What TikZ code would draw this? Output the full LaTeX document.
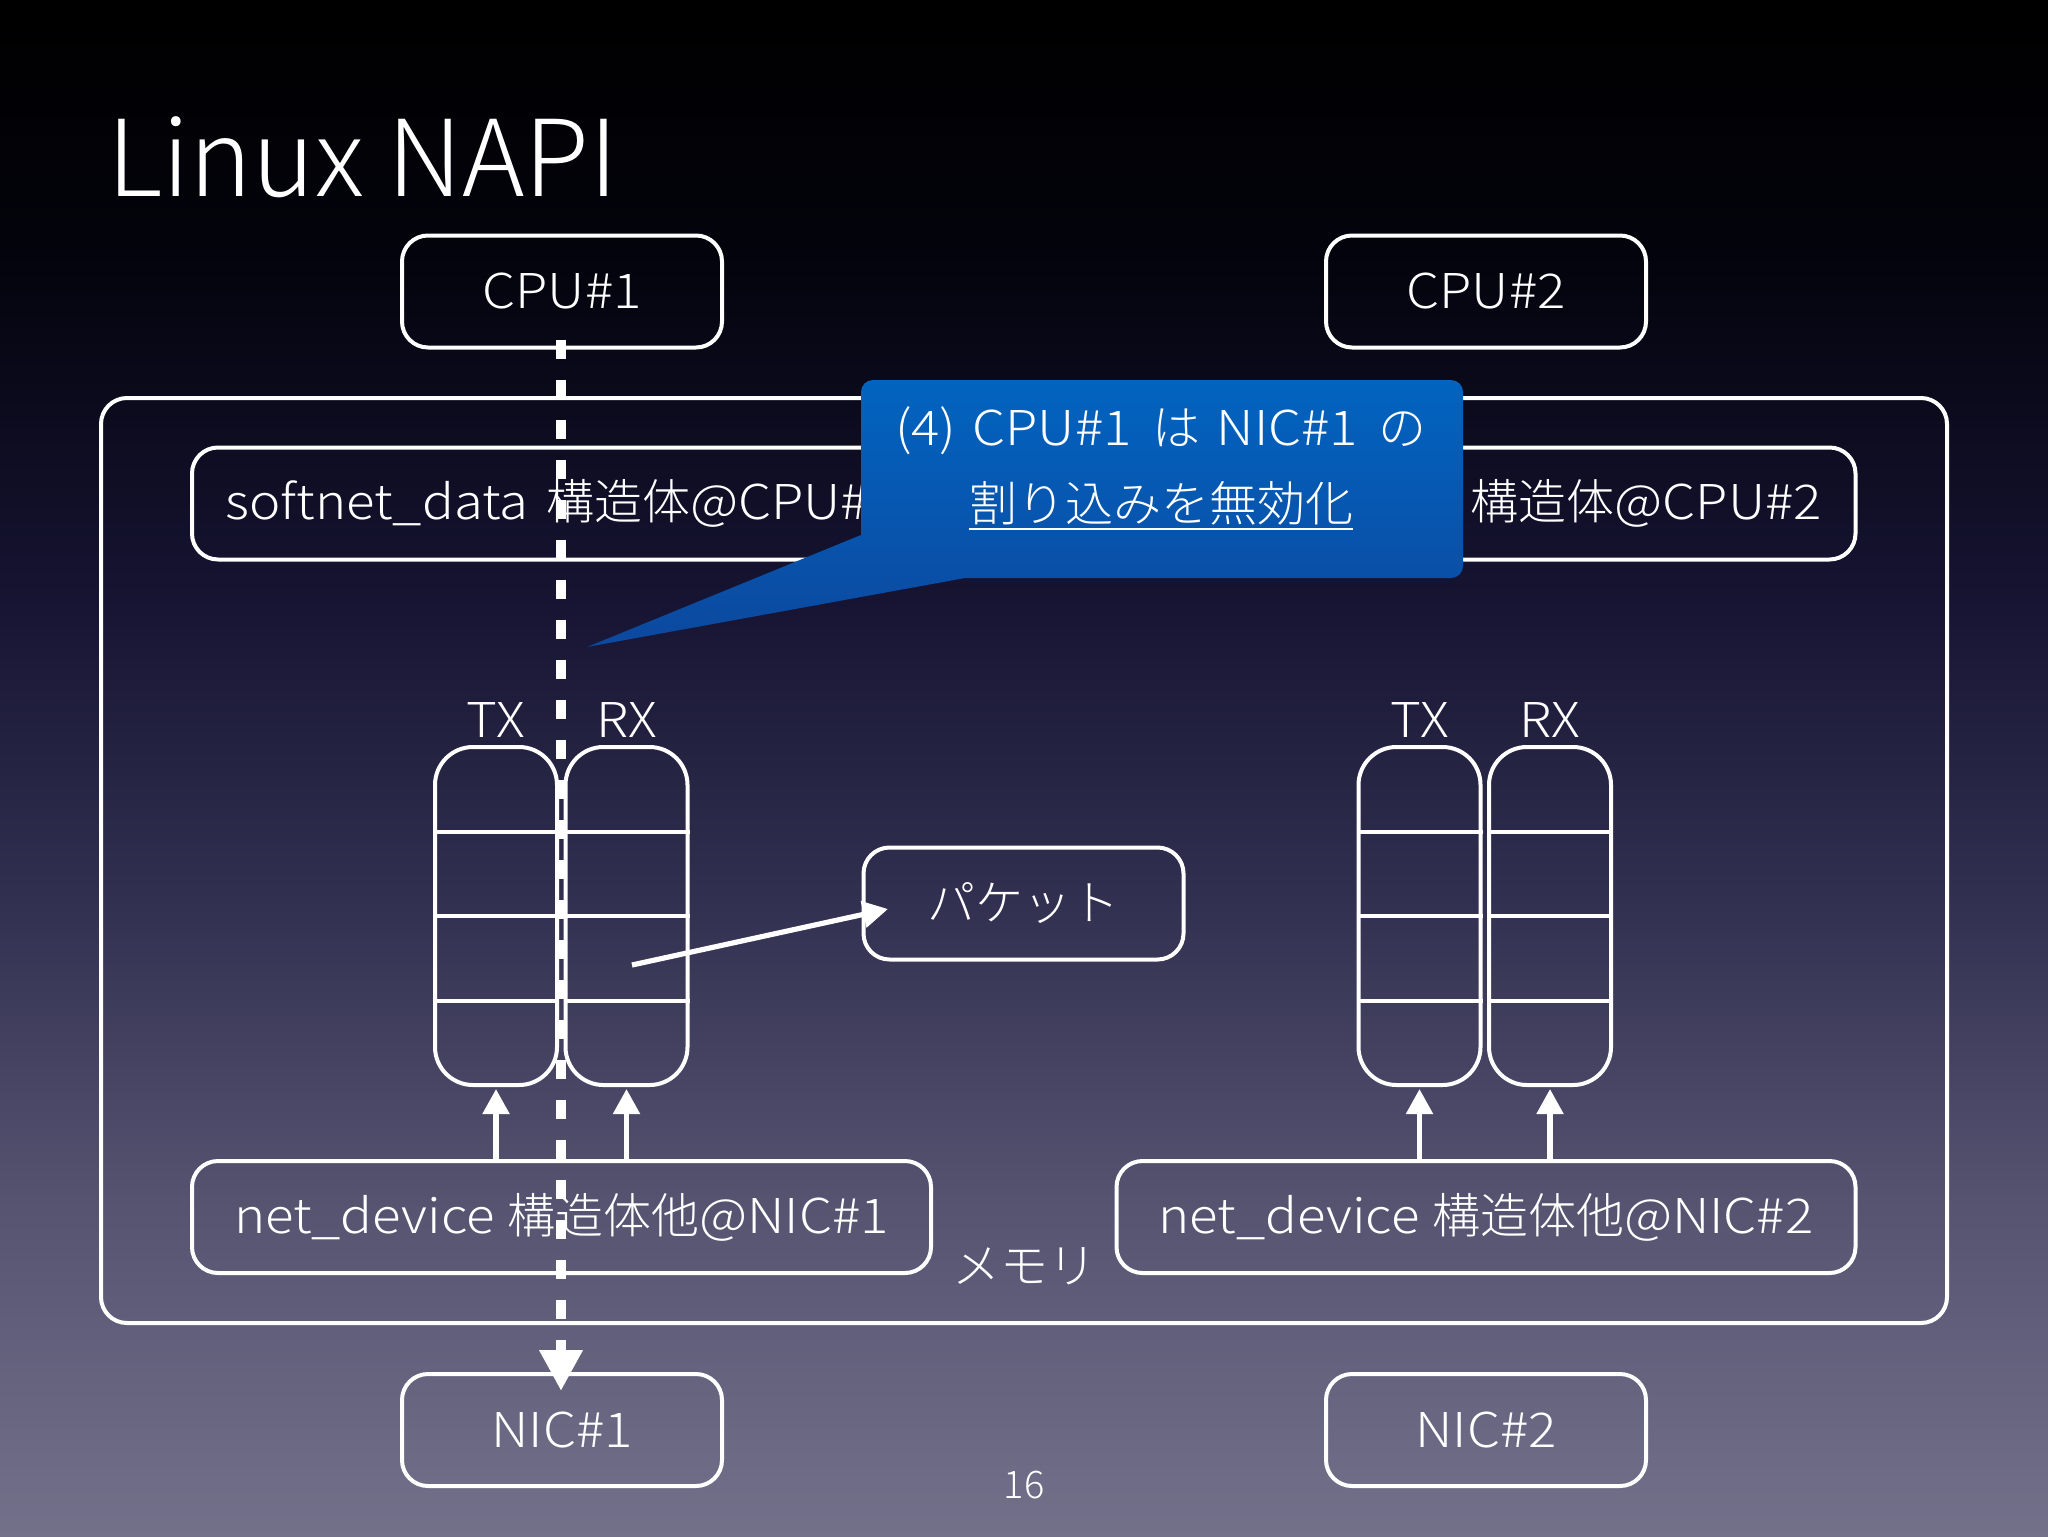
\documentclass[tikz,border=0pt]{standalone}
\usepackage{fontspec}
\IfFontExistsTF{Noto Sans CJK JP Light}{%
  \setmainfont{Noto Sans CJK JP Light}[FakeStretch=1.1]%
  \newfontfamily\cjk{Noto Sans CJK JP Light}%
  \newfontfamily\titlefont{Noto Sans CJK JP Light}}{%
  \setmainfont{Noto Sans CJK JP}[FakeStretch=1.1]%
  \newfontfamily\cjk{Noto Sans CJK JP}%
  \newfontfamily\titlefont{Noto Sans CJK JP}}
\usetikzlibrary{arrows.meta,calc}
\definecolor{bgA}{RGB}{115,113,138}
\definecolor{bgB}{RGB}{85,83,112}
\definecolor{bgC}{RGB}{50,48,80}
\definecolor{bgD}{RGB}{22,20,50}
\definecolor{bgE}{RGB}{3,3,12}
\definecolor{bgF}{RGB}{0,0,0}
\definecolor{callTop}{RGB}{2,100,192}
\definecolor{callBot}{RGB}{12,72,158}
\pgfdeclareverticalshading{slidebg}{100bp}{color(0bp)=(bgA); color(25bp)=(bgA); color(35.94bp)=(bgB); color(45.7bp)=(bgC); color(55.47bp)=(bgD); color(66.86bp)=(bgE); color(75bp)=(bgF); color(100bp)=(bgF)}
\newcommand\fsbox{\fontsize{24pt}{28pt}\selectfont}
\newcommand\fstitle{\titlefont\fontsize{53pt}{58pt}\selectfont}
\newcommand\fspage{\titlefont\fontsize{19pt}{22pt}\selectfont}
\newcommand\jp[1]{{\cjk #1}}
\tikzset{
  box/.style={draw=white, line width=2pt, rounded corners=13pt, text=white, font=\fsbox, inner sep=0pt, minimum height=56pt},
  smallbox/.style={box, minimum width=160pt},
  widebox/.style={box, minimum width=369.5pt},
  queue/.style={draw=white, line width=2pt, rounded corners=19pt, inner sep=0pt, minimum width=61pt, minimum height=169pt},
  qline/.style={draw=white, line width=2pt},
  lbl/.style={text=white, font=\fsbox, inner sep=0pt, anchor=base},
  uparrow/.style={draw=white, line width=2.6pt, -{Triangle[width=13pt,length=12.5pt]}},
  dasharrow/.style={draw=white, line width=5pt, dash pattern=on 9.5pt off 10.5pt, -{Triangle[width=20.5pt,length=20.5pt]}},
}
\begin{document}
\begin{tikzpicture}[x=0.5pt, y=-0.5pt]
\useasboundingbox (0,0) rectangle (2048,1536);
\shade[shading=slidebg] (0,0) rectangle (2048,1536);
% title
\node[anchor=base west, inner sep=0pt, text=white, font=\fstitle] (title) at (107,196) {Linux NAPI};
% memory frame
\node[draw=white, line width=2pt, rounded corners=13pt, inner sep=0pt, minimum width=923pt, minimum height=462.5pt] (mem) at (1024,860.5) {};
\node[lbl] (memlbl) at (1024,1283) {\jp{メモリ}};
% CPUs and NICs
\node[smallbox] (cpu1) at (562,291.5) {CPU\#1};
\node[smallbox] (cpu2) at (1486,291.5) {CPU\#2};
\node[smallbox] (nic1) at (562,1430) {NIC\#1};
\node[smallbox] (nic2) at (1486,1430) {NIC\#2};
% softnet
\node[widebox] (soft1) at (561.5,503.5) {softnet\_data\hspace{3pt} \jp{構造体}@CPU\#1};
\node[widebox] (soft2) at (1486,503.5) {softnet\_data\hspace{3pt} \jp{構造体}@CPU\#2};
% net_device
\node[widebox] (net1) at (561.5,1217) {net\_device\hspace{0.5pt} \jp{構造体他}@NIC\#1};
\node[widebox] (net2) at (1486,1217) {net\_device\hspace{0.5pt} \jp{構造体他}@NIC\#2};
% packet
\node[smallbox] (pkt) at (1023.5,903.5) {\jp{パケット}};
% queues
\node[queue] (tx1) at (496,916) {};
\node[queue] (rx1) at (626.5,916) {};
\node[queue] (tx2) at (1419.5,916) {};
\node[queue] (rx2) at (1550,916) {};
\coordinate (d1) at (0,832);
\coordinate (d2) at (0,916);
\coordinate (d3) at (0,1001);
\foreach \q in {tx1,rx1,tx2,rx2}{
  \foreach \d in {d1,d2,d3}{
    \draw[qline] (\q.west |- \d) -- (\q.east |- \d);
  }
}
\node[lbl] (tx1l) at (496,737) {TX};
\node[lbl] (rx1l) at (626.5,737) {RX};
\node[lbl] (tx2l) at (1419.5,737) {TX};
\node[lbl] (rx2l) at (1550,737) {RX};
% up arrows
\draw[uparrow] (net1.north -| tx1.south) -- ([yshift=-1pt]tx1.south);
\draw[uparrow] (net1.north -| rx1.south) -- ([yshift=-1pt]rx1.south);
\draw[uparrow] (net2.north -| tx2.south) -- ([yshift=-1pt]tx2.south);
\draw[uparrow] (net2.north -| rx2.south) -- ([yshift=-1pt]rx2.south);
% packet pointer
\coordinate (pktsrc) at (632,965);
\coordinate (pkttip) at (888,909);
\draw[uparrow] (pktsrc) -- (pkttip);
% page number
\node[anchor=base, inner sep=0pt, text=white, font=\fspage] (pageno) at (1024,1498) {16};
% dashed CPU->NIC
\coordinate (dstart) at ($(cpu1.south)+(-1,-10)$);
\coordinate (dtip) at ($(nic1.north)+(-1,19)$);
\draw[dasharrow] (dstart) -- (dtip);
% callout
\shade[top color=callTop, bottom color=callBot] (861,535) [rounded corners=6pt] -- (861,380) -- (1463,380) -- (1463,578) [sharp corners] -- (965,578) -- (587,647) -- cycle;
\node[lbl, anchor=center] (co1) at (1161,431) {(4)\hspace{8pt}CPU\#1\hspace{10.5pt}\jp{は}\hspace{8pt}NIC\#1\hspace{10.5pt}\jp{の}};
\node[lbl, anchor=center] (co2) at (1161,503) {\jp{割り込みを無効化}};
\draw[white, line width=1.3pt] ($(co2.base west)+(0,8)$) -- ($(co2.base east)+(0,8)$);
\end{tikzpicture}
\end{document}
